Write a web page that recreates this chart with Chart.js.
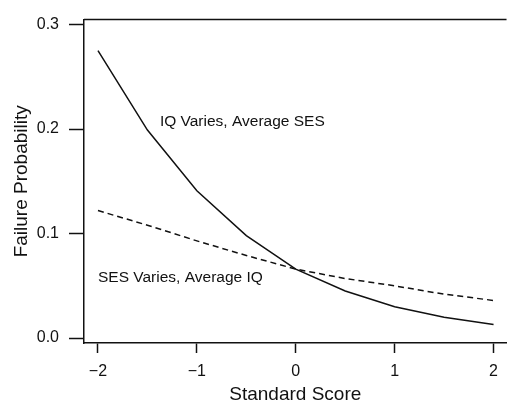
<!DOCTYPE html>
<html>
<head>
<meta charset="utf-8">
<script src="https://cdn.jsdelivr.net/npm/chart.js@4"></script>
<style>
  html, body { margin: 0; padding: 0; background: #fff; overflow: hidden; }
  #c { display: block; }
</style>
</head>
<body>
<canvas id="c" width="507" height="405"></canvas>
<script>
// ---- data ----
const standardScores = [-2, -1.5, -1, -0.5, 0, 0.5, 1, 1.5, 2];
const iqVariesAvgSES = [0.275, 0.199, 0.141, 0.098, 0.066, 0.045, 0.030, 0.020, 0.013];
const sesVariesAvgIQ = [0.122, 0.108, 0.093, 0.079, 0.066, 0.057, 0.050, 0.042, 0.036];
const xTickValues = [-2, -1, 0, 1, 2];
const yTickValues = [0.0, 0.1, 0.2, 0.3];
const seriesNames = ['IQ Varies, Average SES', 'SES Varies, Average IQ'];

const FONT = '"Liberation Sans", Arial, Helvetica, sans-serif';
const INK = '#111';

const toPoints = (xs, ys) => xs.map((x, i) => ({ x: x, y: ys[i] }));

const framePlugin = {
  id: 'frameTop',
  afterDraw(chart) {
    const { ctx, chartArea } = chart;
    ctx.save();
    ctx.strokeStyle = INK;
    ctx.lineWidth = 1.5;
    ctx.beginPath();
    ctx.moveTo(chartArea.left, chartArea.top);
    ctx.lineTo(chartArea.right, chartArea.top);
    ctx.stroke();
    ctx.restore();
  }
};

const curveLabelPlugin = {
  id: 'curveLabels',
  afterDatasetsDraw(chart, args, opts) {
    const { ctx } = chart;
    const xs = chart.scales.x, ys = chart.scales.y;
    ctx.save();
    ctx.fillStyle = INK;
    ctx.font = opts.font;
    ctx.textAlign = 'left';
    ctx.textBaseline = 'middle';
    opts.items.forEach(it => {
      ctx.fillText(it.text, xs.getPixelForValue(it.x), ys.getPixelForValue(it.y));
    });
    ctx.restore();
  }
};

new Chart(document.getElementById('c'), {
  type: 'line',
  data: {
    datasets: [
      {
        label: seriesNames[0],
        data: toPoints(standardScores, iqVariesAvgSES),
        borderColor: INK,
        borderWidth: 1.5,
        pointRadius: 0,
        tension: 0,
        fill: false
      },
      {
        label: seriesNames[1],
        data: toPoints(standardScores, sesVariesAvgIQ),
        borderColor: INK,
        borderWidth: 1.5,
        borderDash: [6, 4],
        pointRadius: 0,
        tension: 0,
        fill: false
      }
    ]
  },
  options: {
    responsive: false,
    devicePixelRatio: 1,
    animation: false,
    layout: { padding: { top: 13, left: 0, right: 0, bottom: 0 } },
    plugins: {
      legend: { display: false },
      tooltip: { enabled: false },
      curveLabels: {
        font: '15.5px ' + FONT,
        items: [
          { text: seriesNames[0], x: -1.374, y: 0.2067 },
          { text: seriesNames[1], x: -2.0, y: 0.058 }
        ]
      }
    },
    scales: {
      x: {
        type: 'linear',
        min: -2.1414,
        max: 2.1313,
        afterFit(scale) { scale.height = 62; },
        afterBuildTicks(scale) { scale.ticks = xTickValues.map(v => ({ value: v })); },
        grid: {
          drawOnChartArea: false,
          drawTicks: true,
          tickLength: 10,
          tickColor: INK,
          tickWidth: 1.5
        },
        border: { display: true, color: INK, width: 1.5 },
        ticks: {
          padding: 9,
          color: INK,
          font: { family: FONT, size: 16 },
          maxRotation: 0,
          callback: v => (v < 0 ? '\u2212' + Math.abs(v) : String(v))
        },
        title: {
          display: true,
          text: 'Standard Score',
          color: INK,
          font: { family: FONT, size: 19, lineHeight: 1 },
          padding: { top: 0, bottom: 1 }
        }
      },
      y: {
        type: 'linear',
        min: -0.0047,
        max: 0.3047,
        afterFit(scale) { scale.width = 84; },
        afterBuildTicks(scale) { scale.ticks = yTickValues.map(v => ({ value: v })); },
        grid: {
          drawOnChartArea: false,
          drawTicks: true,
          tickLength: 15,
          tickColor: INK,
          tickWidth: 1.5
        },
        border: { display: true, color: INK, width: 1.5 },
        ticks: {
          padding: 10,
          color: INK,
          font: { family: FONT, size: 16 },
          callback: v => Number(v).toFixed(1)
        },
        title: {
          display: true,
          text: 'Failure Probability',
          color: INK,
          font: { family: FONT, size: 19, lineHeight: 1 },
          padding: { top: 12, bottom: 0 }
        }
      }
    }
  },
  plugins: [framePlugin, curveLabelPlugin]
});
</script>
</body>
</html>
